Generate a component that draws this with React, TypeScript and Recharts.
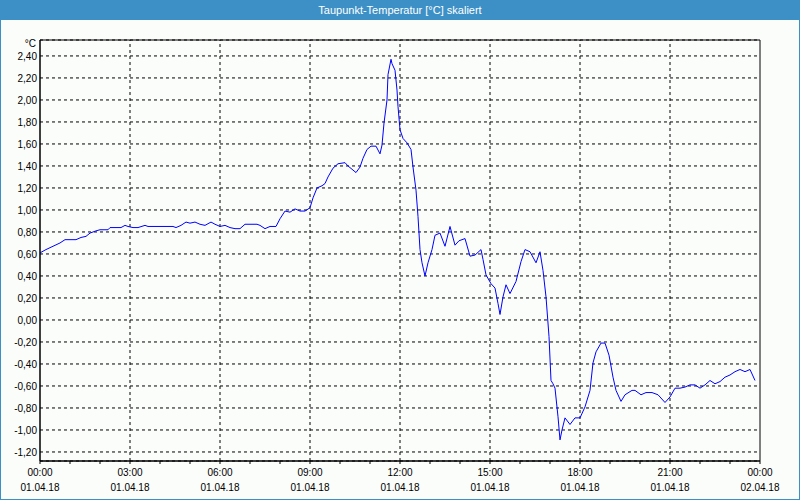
import React from 'react';
import {LineChart, Line, XAxis, YAxis, CartesianGrid, ReferenceLine, ReferenceArea} from 'recharts';

// minutes since 01.04.18 00:00
const minutes = [
	0, 12, 26, 40, 50, 60, 72, 82, 92, 100, 112, 120, 136, 140, 162, 170, 176, 186, 196, 210,
	216, 230, 242, 266, 272, 282, 292, 300, 310, 320, 330, 342, 350, 360, 370, 380, 390, 400, 410, 434,
	440, 450, 460, 472, 480, 490, 500, 510, 520, 530, 540, 546, 554, 564, 570, 576, 586, 596, 610, 616,
	624, 632, 640, 646, 654, 662, 672, 680, 684, 688, 694, 696, 702, 704, 710, 714, 716, 720, 726, 734,
	742, 746, 752, 756, 760, 764, 770, 776, 784, 790, 800, 810, 820, 830, 838, 850, 860, 870, 882, 886,
	892, 902, 910, 916, 920, 926, 932, 940, 952, 962, 970, 980, 992, 1000, 1006, 1012, 1018, 1022, 1026, 1030,
	1036, 1040, 1044, 1050, 1060, 1070, 1080, 1090, 1100, 1106, 1112, 1122, 1130, 1138, 1146, 1152, 1162, 1170, 1184, 1190,
	1202, 1212, 1224, 1236, 1250, 1260, 1270, 1280, 1290, 1300, 1310, 1320, 1330, 1340, 1350, 1360, 1370, 1380, 1390, 1400,
	1410, 1420, 1430
];

const dewPoint = [
	0.61, 0.64, 0.67, 0.70, 0.73, 0.73, 0.73, 0.75, 0.76, 0.79, 0.81, 0.82, 0.82, 0.84, 0.84, 0.86, 0.85, 0.84, 0.84, 0.86,
	0.85, 0.85, 0.85, 0.85, 0.84, 0.86, 0.89, 0.88, 0.89, 0.87, 0.86, 0.89, 0.87, 0.85, 0.86, 0.84, 0.83, 0.83, 0.87, 0.87,
	0.86, 0.83, 0.85, 0.85, 0.92, 0.99, 0.98, 1.01, 0.99, 0.99, 1.02, 1.11, 1.20, 1.22, 1.24, 1.30, 1.38, 1.42, 1.43, 1.40,
	1.37, 1.34, 1.39, 1.47, 1.55, 1.58, 1.58, 1.51, 1.59, 1.79, 2.00, 2.23, 2.37, 2.33, 2.27, 2.09, 1.94, 1.73, 1.65, 1.61,
	1.55, 1.39, 1.18, 0.94, 0.64, 0.52, 0.40, 0.52, 0.64, 0.77, 0.79, 0.67, 0.85, 0.68, 0.72, 0.74, 0.58, 0.59, 0.64, 0.55,
	0.41, 0.33, 0.29, 0.15, 0.05, 0.21, 0.32, 0.24, 0.35, 0.53, 0.64, 0.62, 0.52, 0.62, 0.45, 0.21, -0.15, -0.55, -0.58, -0.62,
	-0.88, -1.09, -1.00, -0.89, -0.95, -0.89, -0.89, -0.79, -0.64, -0.39, -0.29, -0.21, -0.21, -0.32, -0.52, -0.64, -0.74, -0.68, -0.64, -0.64,
	-0.68, -0.66, -0.66, -0.68, -0.75, -0.70, -0.62, -0.62, -0.61, -0.59, -0.59, -0.62, -0.59, -0.55, -0.58, -0.56, -0.52, -0.50, -0.47, -0.45,
	-0.47, -0.45, -0.55
];

const yTicks = [-1.2, -1.0, -0.8, -0.6, -0.4, -0.2, 0, 0.2, 0.4, 0.6, 0.8, 1.0, 1.2, 1.4, 1.6, 1.8, 2.0, 2.2, 2.4];
const hourTicks = [0, 60, 120, 180, 240, 300, 360, 420, 480, 540, 600, 660, 720, 780, 840, 900, 960, 1020, 1080, 1140, 1200, 1260, 1320, 1380, 1440];
const gridHours = [180, 360, 540, 720, 900, 1080, 1260];
const timeLabels = ['00:00', '03:00', '06:00', '09:00', '12:00', '15:00', '18:00', '21:00', '00:00'];
const dateLabels = ['01.04.18', '01.04.18', '01.04.18', '01.04.18', '01.04.18', '01.04.18', '01.04.18', '01.04.18', '02.04.18'];

const yMin = -1.282;
const yMax = 2.545;

const data = minutes.map((t, i) => ({t, v: dewPoint[i]}));

const font = '"Liberation Sans", Arial, sans-serif';
const blue = '#3c90c6';

function TimeTick(props: any) {
	const {x, y, payload} = props;
	const val = payload.value as number;
	if (val % 180 !== 0) return null;
	const i = val / 180;
	return (
		<g>
			<text x={x} y={y + 12} textAnchor="middle" fontSize={10} fontFamily={font} fill="#000">
				{timeLabels[i]}
			</text>
			<text x={x} y={y + 27} textAnchor="middle" fontSize={10} fontFamily={font} fill="#000">
				{dateLabels[i]}
			</text>
		</g>
	);
}

export default function App() {
	return (
		<div style={{position: 'absolute', left: 0, top: 0, width: 800, height: 500, background: '#fbfdfb', overflow: 'hidden'}}>
			<LineChart width={800} height={500} data={data} margin={{top: 40, right: 40, bottom: 0, left: 0}}>
				<CartesianGrid vertical={false} stroke="#000" strokeDasharray="3 3" />
				{gridHours.map(h => (
					<ReferenceLine key={h} x={h} stroke="#000" strokeDasharray="3 3" />
				))}
				<ReferenceArea x1={0} x2={1440} y1={yMin} y2={yMax} fill="none" stroke="#000" ifOverflow="visible" />
				<XAxis
					dataKey="t"
					type="number"
					domain={[0, 1440]}
					ticks={hourTicks}
					interval={0}
					height={39}
					stroke="#000"
					tickSize={3}
					tickMargin={0}
					tick={<TimeTick />}
					allowDataOverflow
				/>
				<YAxis
					type="number"
					domain={[yMin, yMax]}
					ticks={yTicks}
					interval={0}
					width={40}
					stroke="#000"
					tickLine={false}
					tickSize={0}
					tickMargin={3}
					allowDataOverflow
					tick={{fontSize: 10, fontFamily: font, fill: '#000'}}
					tickFormatter={(v: number) => v.toFixed(2).replace('.', ',')}
				/>
				<Line type="linear" dataKey="v" stroke="#0000ff" strokeWidth={1} dot={false} isAnimationActive={false} />
			</LineChart>
			<div
				style={{
					position: 'absolute', left: 0, top: 0, width: 800, height: 20, background: blue,
					color: '#fff', fontFamily: font, fontSize: 11, lineHeight: '20px', textAlign: 'center'
				}}
			>
				Taupunkt-Temperatur [°C] skaliert
			</div>
			<div style={{position: 'absolute', right: 764, top: 38, fontFamily: font, fontSize: 10, color: '#000'}}>°C</div>
			<div style={{position: 'absolute', left: 0, top: 0, width: 800, height: 500, border: `1px solid ${blue}`, boxSizing: 'border-box', pointerEvents: 'none'}} />
		</div>
	);
}
